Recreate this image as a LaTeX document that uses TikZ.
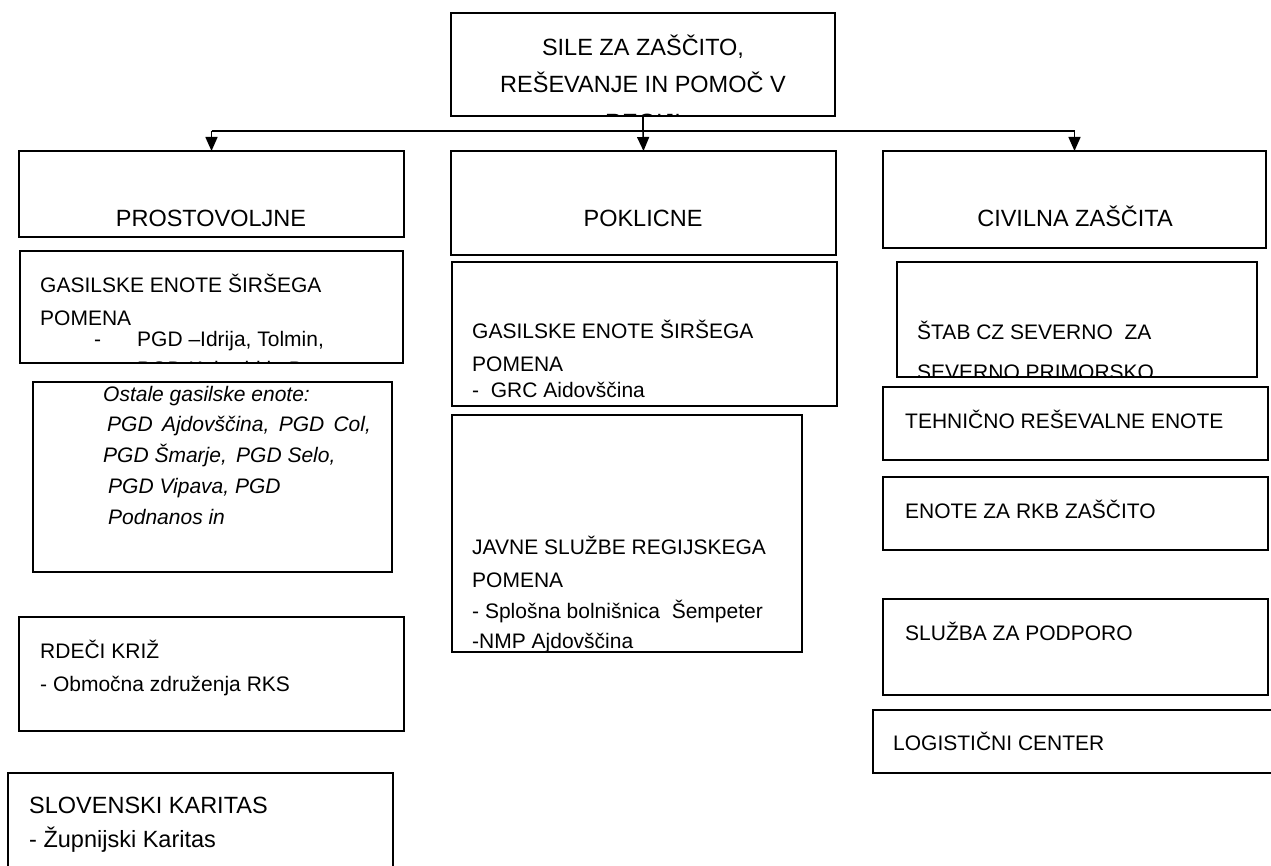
\documentclass[tikz,border=0pt]{standalone}
\usepackage{fontspec}
\setmainfont{Liberation Sans}
\usetikzlibrary{arrows.meta}
\newcommand\mybox[5]{\node[box, minimum width=#4pt, minimum height=#5pt] (#1) at (#2,#3) {};}
\begin{document}
\begin{tikzpicture}[x=1pt,y=-1pt,
  box/.style={draw=black, line width=1.5pt, rectangle, inner sep=0pt, outer sep=0pt, anchor=north west},
  txt/.style={inner sep=0pt, anchor=base west, font=\fontsize{21}{25}\selectfont},
  big/.style={inner sep=0pt, anchor=base west, font=\fontsize{23.5}{28}\selectfont},
  ttl/.style={inner sep=0pt, anchor=base, font=\fontsize{23.5}{28}\selectfont},
  itx/.style={txt, font=\fontsize{21}{25}\selectfont\itshape},
  arr/.style={line width=1.5pt, -{Triangle[length=14pt,width=12pt]}},
  con/.style={line width=1.5pt}]
\clip (0,0) rectangle (1271,866);
\fill[white] (0,0) rectangle (1271,866);

% boxes
\mybox{top}{451}{13}{384}{103}
\mybox{pros}{19}{151}{385}{86}
\mybox{pokl}{451}{151}{385}{104}
\mybox{civ}{883}{151}{383}{97}
\mybox{gasl}{20}{251}{383}{112}
\mybox{ost}{33}{382}{359}{190}
\mybox{rk}{19}{617}{385}{114}
\mybox{kar}{8}{773}{385}{120}
\mybox{gasm}{452}{262}{385}{144}
\mybox{jav}{452}{415}{350}{237}
\mybox{stab}{897}{262}{360}{115}
\mybox{teh}{883}{387}{385}{73}
\mybox{rkb}{883}{477}{385}{73}
\mybox{sluz}{883}{599}{385}{96}
\mybox{log}{873}{710}{420}{63}

% connectors
\coordinate (jm) at (643,131);
\coordinate (jl) at (pros.north |- jm);
\coordinate (jr) at (civ.north |- jm);
\draw[con] (top.south) -- (jm);
\draw[con] (jl) -- (jr);
\draw[arr] (jl) -- (pros.north);
\draw[arr] (jm) -- (pokl.north);
\draw[arr] (jr) -- (civ.north);

% top box text
\node[ttl] (top1) at (643,56) {SILE ZA ZAŠČITO,};
\node[ttl] (top2) at (643,93) {REŠEVANJE IN POMOČ V};
\begin{scope}
  \clip (top.south west) rectangle (top.north east);
  \node[ttl] (top3) at (643,131) {REGIJI};
\end{scope}

% level 2
\node[ttl] (pros-t) at (211,227) {PROSTOVOLJNE};
\node[ttl] (pokl-t) at (643,227) {POKLICNE};
\node[ttl] (civ-t) at (1075,227) {CIVILNA ZAŠČITA};

% left column
\node[txt] (gasl1) at (40,293) {GASILSKE ENOTE ŠIRŠEGA};
\node[txt] (gasl2) at (40,326) {POMENA};
\node[txt] (gasl3) at (94,347) {-};
\node[txt] (gasl4) at (137,347) {PGD –Idrija, Tolmin,};
\begin{scope}
  \clip (gasl.south west) rectangle (gasl.north east);
  \node[txt] (gasl5) at (137,376) {PGD Kobarid in Bovec};
\end{scope}

\node[itx] (ost1) at (103,401) {Ostale gasilske enote:};
\node[itx] (ost2) at (107,431) {PGD\, Ajdovščina,\, PGD\, Col,};
\node[itx] (ost3) at (103,462) {PGD Šmarje,\, PGD Selo,};
\node[itx] (ost4) at (108,493) {PGD Vipava, PGD};
\node[itx] (ost5) at (108,524) {Podnanos in};

\node[txt] (rk1) at (40,658) {RDEČI KRIŽ};
\node[txt] (rk2) at (40,691) {- Območna združenja RKS};

\node[big] (kar1) at (29,813) {SLOVENSKI KARITAS};
\node[big] (kar2) at (29,847) {- Župnijski Karitas};

% middle column
\node[txt] (gasm1) at (472,338) {GASILSKE ENOTE ŠIRŠEGA};
\node[txt] (gasm2) at (472,371) {POMENA};
\node[txt] (gasm3) at (472,397) {-\ \ GRC Aidovščina};

\node[txt] (jav1) at (472,554) {JAVNE SLUŽBE REGIJSKEGA};
\node[txt] (jav2) at (472,587) {POMENA};
\node[txt] (jav3) at (472,618) {- Splošna bolnišnica\ \ Šempeter};
\node[txt] (jav4) at (472,648) {-NMP Ajdovščina};

% right column
\node[txt] (stab1) at (917,340) {ŠTAB CZ SEVERNO\ \ ZA};
\begin{scope}
  \clip (stab.south west) rectangle (stab.north east);
  \node[txt] (stab2) at (917,379) {SEVERNO PRIMORSKO};
\end{scope}
\node[txt] (teh1) at (905,428) {TEHNIČNO REŠEVALNE ENOTE};
\node[txt] (rkb1) at (905,518) {ENOTE ZA RKB ZAŠČITO};
\node[txt] (sluz1) at (905,640) {SLUŽBA ZA PODPORO};
\node[txt] (log1) at (893,750) {LOGISTIČNI CENTER};
\end{tikzpicture}
\end{document}
